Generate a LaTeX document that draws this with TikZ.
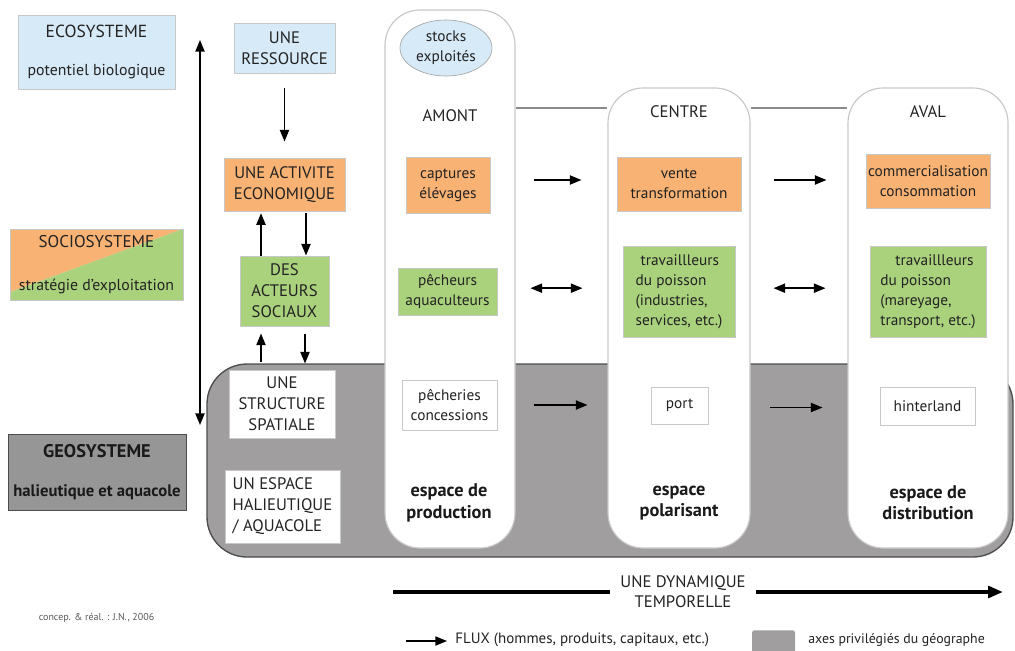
\documentclass[tikz,border=0pt]{standalone}
\usepackage{fontspec}
\setmainfont{PT Sans}
\usetikzlibrary{arrows.meta,shapes.geometric}
\definecolor{blu}{RGB}{214,234,247}
\definecolor{ora}{RGB}{248,178,115}
\definecolor{gre}{RGB}{170,210,125}
\definecolor{gry}{RGB}{160,158,158}
\definecolor{geog}{RGB}{150,150,150}
\definecolor{txt}{RGB}{35,35,35}
\definecolor{edge}{RGB}{200,200,200}
\begin{document}
\begin{tikzpicture}[x=0.6pt,y=-0.6pt,
  every node/.style={font=\fontsize{9.2}{12}\selectfont, text=txt},
  box/.style={draw=edge, line width=0.6pt, inner sep=1pt, align=center},
  caps/.style={font=\fontsize{10}{12.6}\selectfont},
  colbox/.style={draw=edge, fill=white, rounded corners=21pt, line width=0.7pt, inner sep=0pt},
  flow/.style={-{Triangle[length=7pt,width=5.5pt]}, line width=1pt, black},
  flowtwo/.style={{Triangle[length=7pt,width=5.5pt]}-{Triangle[length=7pt,width=5.5pt]}, line width=1pt, black},
  bigtxt/.style={font=\fontsize{11}{12.8}\selectfont\bfseries, text=black!90, align=center},
  lbl/.style={font=\fontsize{10}{12}\selectfont, text=txt, align=center}]
\useasboundingbox (0,0) rectangle (1015,650);
\fill[white] (0,0) rectangle (1015,650);

% big grey region
\draw[draw=black!70, fill=gry, line width=0.8pt, rounded corners=24pt] (207,364) -- (1013,364) -- (1013,557) -- (207,557) -- cycle;

% columns
\node[colbox, minimum width=78pt, minimum height=322.8pt] (col1) at (450,279) {};
\node[colbox, minimum width=85.2pt, minimum height=276pt] (col2) at (679,318) {};
\node[colbox, minimum width=96pt, minimum height=276pt] (col3) at (928,318) {};
\draw[black!45, line width=0.7pt] (col1.east |- 0,108) -- (col2.west |- 0,108);
\draw[black!45, line width=0.7pt] (col2.east |- 0,108) -- (col3.west |- 0,108);

% left column legend boxes
\node[box, fill=blu, minimum width=94.2pt, minimum height=44.4pt, font=\fontsize{9.5}{12}\selectfont] (eco) at (96.5,52) {{\fontsize{10.5}{12}\selectfont ECOSYSTEME}\\[11pt]potentiel biologique};
\fill[ora] (10,229) -- (183,229) -- (10,292) -- cycle;
\fill[gre] (183,229) -- (183,300) -- (10,300) -- (10,292) -- cycle;
\node[box, minimum width=103.8pt, minimum height=42.6pt, font=\fontsize{9.5}{12}\selectfont] (socio) at (96.5,264.5) {{\fontsize{10.2}{12}\selectfont SOCIOSYSTEME}\\[14pt]stratégie d'exploitation};
\node[box, draw=black!70, fill=geog, minimum width=106.8pt, minimum height=45.6pt, font=\fontsize{10}{12}\selectfont\bfseries, text=black!90] (geo) at (97,472) {{\fontsize{11}{12}\selectfont GEOSYSTEME}\\[11pt]halieutique et aquacole};

% vertical axis
\coordinate (vt) at (200,40);
\coordinate (vb) at (200,425);
\draw[flowtwo] (vt) -- (vb);

% chain
\node[box, caps, fill=blu, minimum width=60.6pt, minimum height=30pt] (res) at (284.5,48) {UNE\\RESSOURCE};
\node[box, caps, fill=ora, minimum width=72.6pt, minimum height=31.8pt] (act) at (284.5,184.5) {UNE ACTIVITE\\ECONOMIQUE};
\node[box, caps, fill=gre, minimum width=53.4pt, minimum height=42pt] (acteurs) at (284.5,291) {DES\\ACTEURS\\SOCIAUX};
\node[box, caps, fill=white, minimum width=63.6pt, minimum height=40.8pt] (struct) at (282,404) {UNE\\STRUCTURE\\SPATIALE};
\node[box, caps, fill=white, minimum width=69pt, minimum height=43.8pt, align=left] (espace) at (282.5,506.5) {UN ESPACE\\HALIEUTIQUE\\/ AQUACOLE};

\draw[flow, shorten <=8.4pt, shorten >=9.6pt] (res) -- (act);
\path ([xshift=-14.1pt]acteurs.north) coordinate (u1);
\draw[flow, shorten >=1pt] (u1) -- (u1 |- act.south);
\path ([xshift=12.9pt]act.south) coordinate (d1);
\draw[flow, shorten <=1pt] (d1) -- (d1 |- acteurs.north);
\path ([xshift=-14.1pt]acteurs.south) coordinate (u2);
\draw[flow, shorten <=4.8pt, shorten >=4.2pt] (u2 |- struct.north) -- (u2);
\path ([xshift=12.3pt]acteurs.south) coordinate (d2);
\draw[flow, shorten <=4.2pt, shorten >=3.6pt] (d2) -- (d2 |- struct.north);

% column 1
\node[ellipse, draw=black!35, fill=blu, minimum width=55.2pt, minimum height=33.6pt, inner sep=0pt, align=center] (stocks) at (446,48) {stocks\\exploités};
\node[lbl] (amont) at (450,116) {AMONT};
\node[box, fill=ora, minimum width=50.4pt, minimum height=33.6pt] (cap) at (448,185) {captures\\élévages};
\node[box, fill=gre, minimum width=59.4pt, minimum height=28.2pt] (peche) at (447.5,291.5) {pêcheurs\\aquaculteurs};
\node[box, fill=white, minimum width=57pt, minimum height=30pt] (pecheries) at (449.5,405) {pêcheries\\concessions};
\node[bigtxt] (prod) at (449,503) {espace de\\production};

% column 2
\node[lbl] (centre) at (679,112) {CENTRE};
\node[box, fill=ora, minimum width=74.4pt, minimum height=32.4pt] (vente) at (679,184) {vente\\transformation};
\node[box, fill=gre, minimum width=67.2pt, minimum height=54.6pt, align=left] (trav1) at (679,291.5) {\hspace*{3pt}travaillleurs\\du poisson\\(industries,\\services, etc.)};
\node[box, fill=white, minimum width=34.2pt, minimum height=22.2pt] (port) at (679.5,405.5) {port};
\node[bigtxt] (polar) at (679,503) {espace\\polarisant};

% column 3
\node[lbl] (aval) at (928,112) {AVAL};
\node[box, fill=ora, minimum width=74.4pt, minimum height=32.4pt] (comm) at (928,181) {commercialisation\\consommation};
\node[box, fill=gre, minimum width=69.6pt, minimum height=54.6pt, align=left] (trav2) at (928,291.5) {\hspace*{9pt}travaillleurs\\du poisson\\(mareyage,\\transport, etc.)};
\node[box, fill=white, minimum width=57pt, minimum height=22.8pt] (hinter) at (927.5,406) {hinterland};
\node[bigtxt] (dist) at (928,503) {espace de\\distribution};

% flows between columns
\draw[flow, shorten <=25.8pt, shorten >=21pt] ([yshift=3pt]cap.east) -- ([yshift=3pt]cap.east -| vente.west);
\draw[flow, shorten <=19.2pt, shorten >=23.4pt] ([yshift=2.4pt]vente.east) -- ([yshift=2.4pt]vente.east -| comm.west);
\draw[flowtwo, shorten <=19.8pt, shorten >=24pt] ([yshift=2pt]peche.east) -- ([yshift=2pt]peche.east -| trav1.west);
\draw[flowtwo, shorten <=22.8pt, shorten >=26.4pt] ([yshift=2pt]trav1.east) -- ([yshift=2pt]trav1.east -| trav2.west);
\draw[flow, shorten <=21.6pt, shorten >=37.8pt] (pecheries.east) -- (pecheries.east -| port.west);
\draw[flow, shorten <=36.6pt, shorten >=34.2pt] ([yshift=-1.2pt]port.east) -- ([yshift=-1.2pt]port.east -| hinter.west);

% dynamics
\node[lbl, inner sep=6pt] (dyn) at (683,592) {UNE DYNAMIQUE\\TEMPORELLE};
\coordinate (dl) at (393,592);
\coordinate (dr) at (1003,592);
\draw[line width=2.4pt] (dl) -- (dyn.west);
\draw[line width=2.4pt, -{Triangle[length=9pt,width=7pt]}] (dyn.east) -- (dr);

% credits and legend
\node[anchor=west, font=\fontsize{6}{7}\selectfont, text=black!65] (credit) at (33,618) {concep. \& réal. : J.N., 2006};
\coordinate (la) at (406,641);
\node[anchor=west, inner sep=0pt, font=\fontsize{9}{10}\selectfont] (lflux) at (455,640) {FLUX (hommes, produits, capitaux, etc.)};
\draw[flow, line width=0.8pt, shorten >=4.8pt] (la) -- (la -| lflux.west);
\node[fill=gry, minimum width=25.8pt, minimum height=14pt, inner sep=0pt, anchor=north, rounded corners=1pt] (lsq) at (773.5,630) {};
\node[anchor=west, inner sep=0pt, font=\fontsize{8.3}{9}\selectfont] (laxes) at (808,640) {axes privilégiés du géographe};
\end{tikzpicture}
\end{document}
